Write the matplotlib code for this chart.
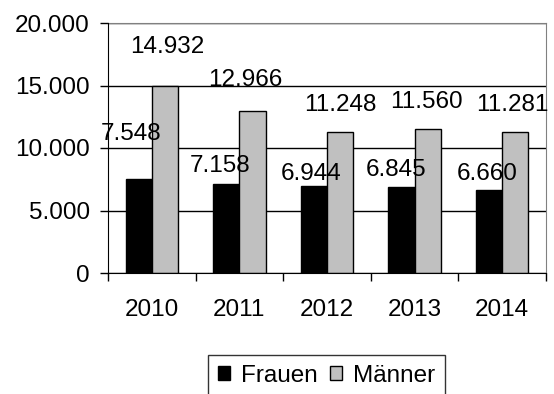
import matplotlib.pyplot as plt
import numpy as np
from matplotlib.ticker import FuncFormatter, FixedLocator

plt.rcParams['font.family'] = ['Liberation Sans', 'DejaVu Sans']

years = ['2010', '2011', '2012', '2013', '2014']
frauen = [7548, 7158, 6944, 6845, 6660]
maenner = [14932, 12966, 11248, 11560, 11281]

# hand-placed label offsets (pixels from the top centre of each bar)
frauen_off = [(-8, 45), (-6, 18), (-3, 12), (-5, 17), (-2, 16)]
maenner_off = [(2, 39), (-7, 31), (0, 27), (-1, 26), (-3, 27)]

FS = 17.5


def de_fmt(v, pos=None):
    return f'{v:,.0f}'.replace(',', '.')


fig = plt.figure(figsize=(5.54, 3.94), dpi=100)
ax = fig.add_axes([108 / 554, 1 - 273 / 394, 438 / 554, 250 / 394])

x = np.arange(len(years))
w = 0.3
bf = ax.bar(x - w / 2, frauen, w, color='black', edgecolor='black', linewidth=1, label='Frauen', zorder=3)
bm = ax.bar(x + w / 2, maenner, w, color='#c0c0c0', edgecolor='black', linewidth=1, label='Männer', zorder=3)

for xi, v, (dx, dy) in zip(x - w / 2, frauen, frauen_off):
    ax.annotate(de_fmt(v), (xi, v), xytext=(dx, dy), textcoords='offset pixels',
                ha='center', va='center', fontsize=FS, zorder=4)
for xi, v, (dx, dy) in zip(x + w / 2, maenner, maenner_off):
    ax.annotate(de_fmt(v), (xi, v), xytext=(dx, dy), textcoords='offset pixels',
                ha='center', va='center', fontsize=FS, zorder=4)

ax.set_xlim(-0.5, len(years) - 0.5)
ax.set_ylim(0, 20000)
ax.set_yticks([0, 5000, 10000, 15000, 20000])
ax.yaxis.set_major_formatter(FuncFormatter(de_fmt))
ax.yaxis.grid(True, color='black', linewidth=1, zorder=0)

ax.set_xticks(x)
ax.set_xticklabels(years)
ax.xaxis.set_minor_locator(FixedLocator(np.arange(-0.5, len(years), 1.0)))
ax.tick_params(axis='x', which='major', length=0, pad=18.5, labelsize=FS)
ax.tick_params(axis='x', which='minor', length=6, width=1, direction='out')
ax.tick_params(axis='y', length=6, width=1, pad=7, labelsize=FS)

ax.spines['top'].set_color('#808080')
ax.spines['right'].set_color('#808080')
for s in ['left', 'bottom']:
    ax.spines[s].set_color('black')
    ax.spines[s].set_zorder(5)

leg = fig.legend(handles=[bf, bm], loc='upper left',
                 bbox_to_anchor=(208 / 554, 1 - 355 / 394), ncol=2,
                 fontsize=FS, frameon=True, fancybox=False,
                 handlelength=0.5, handleheight=0.5, handletextpad=0.45,
                 columnspacing=0.5, borderpad=0.4, borderaxespad=0)
leg.get_frame().set_edgecolor('black')
leg.get_frame().set_linewidth(1)

fig.savefig('out.png', dpi=100)
